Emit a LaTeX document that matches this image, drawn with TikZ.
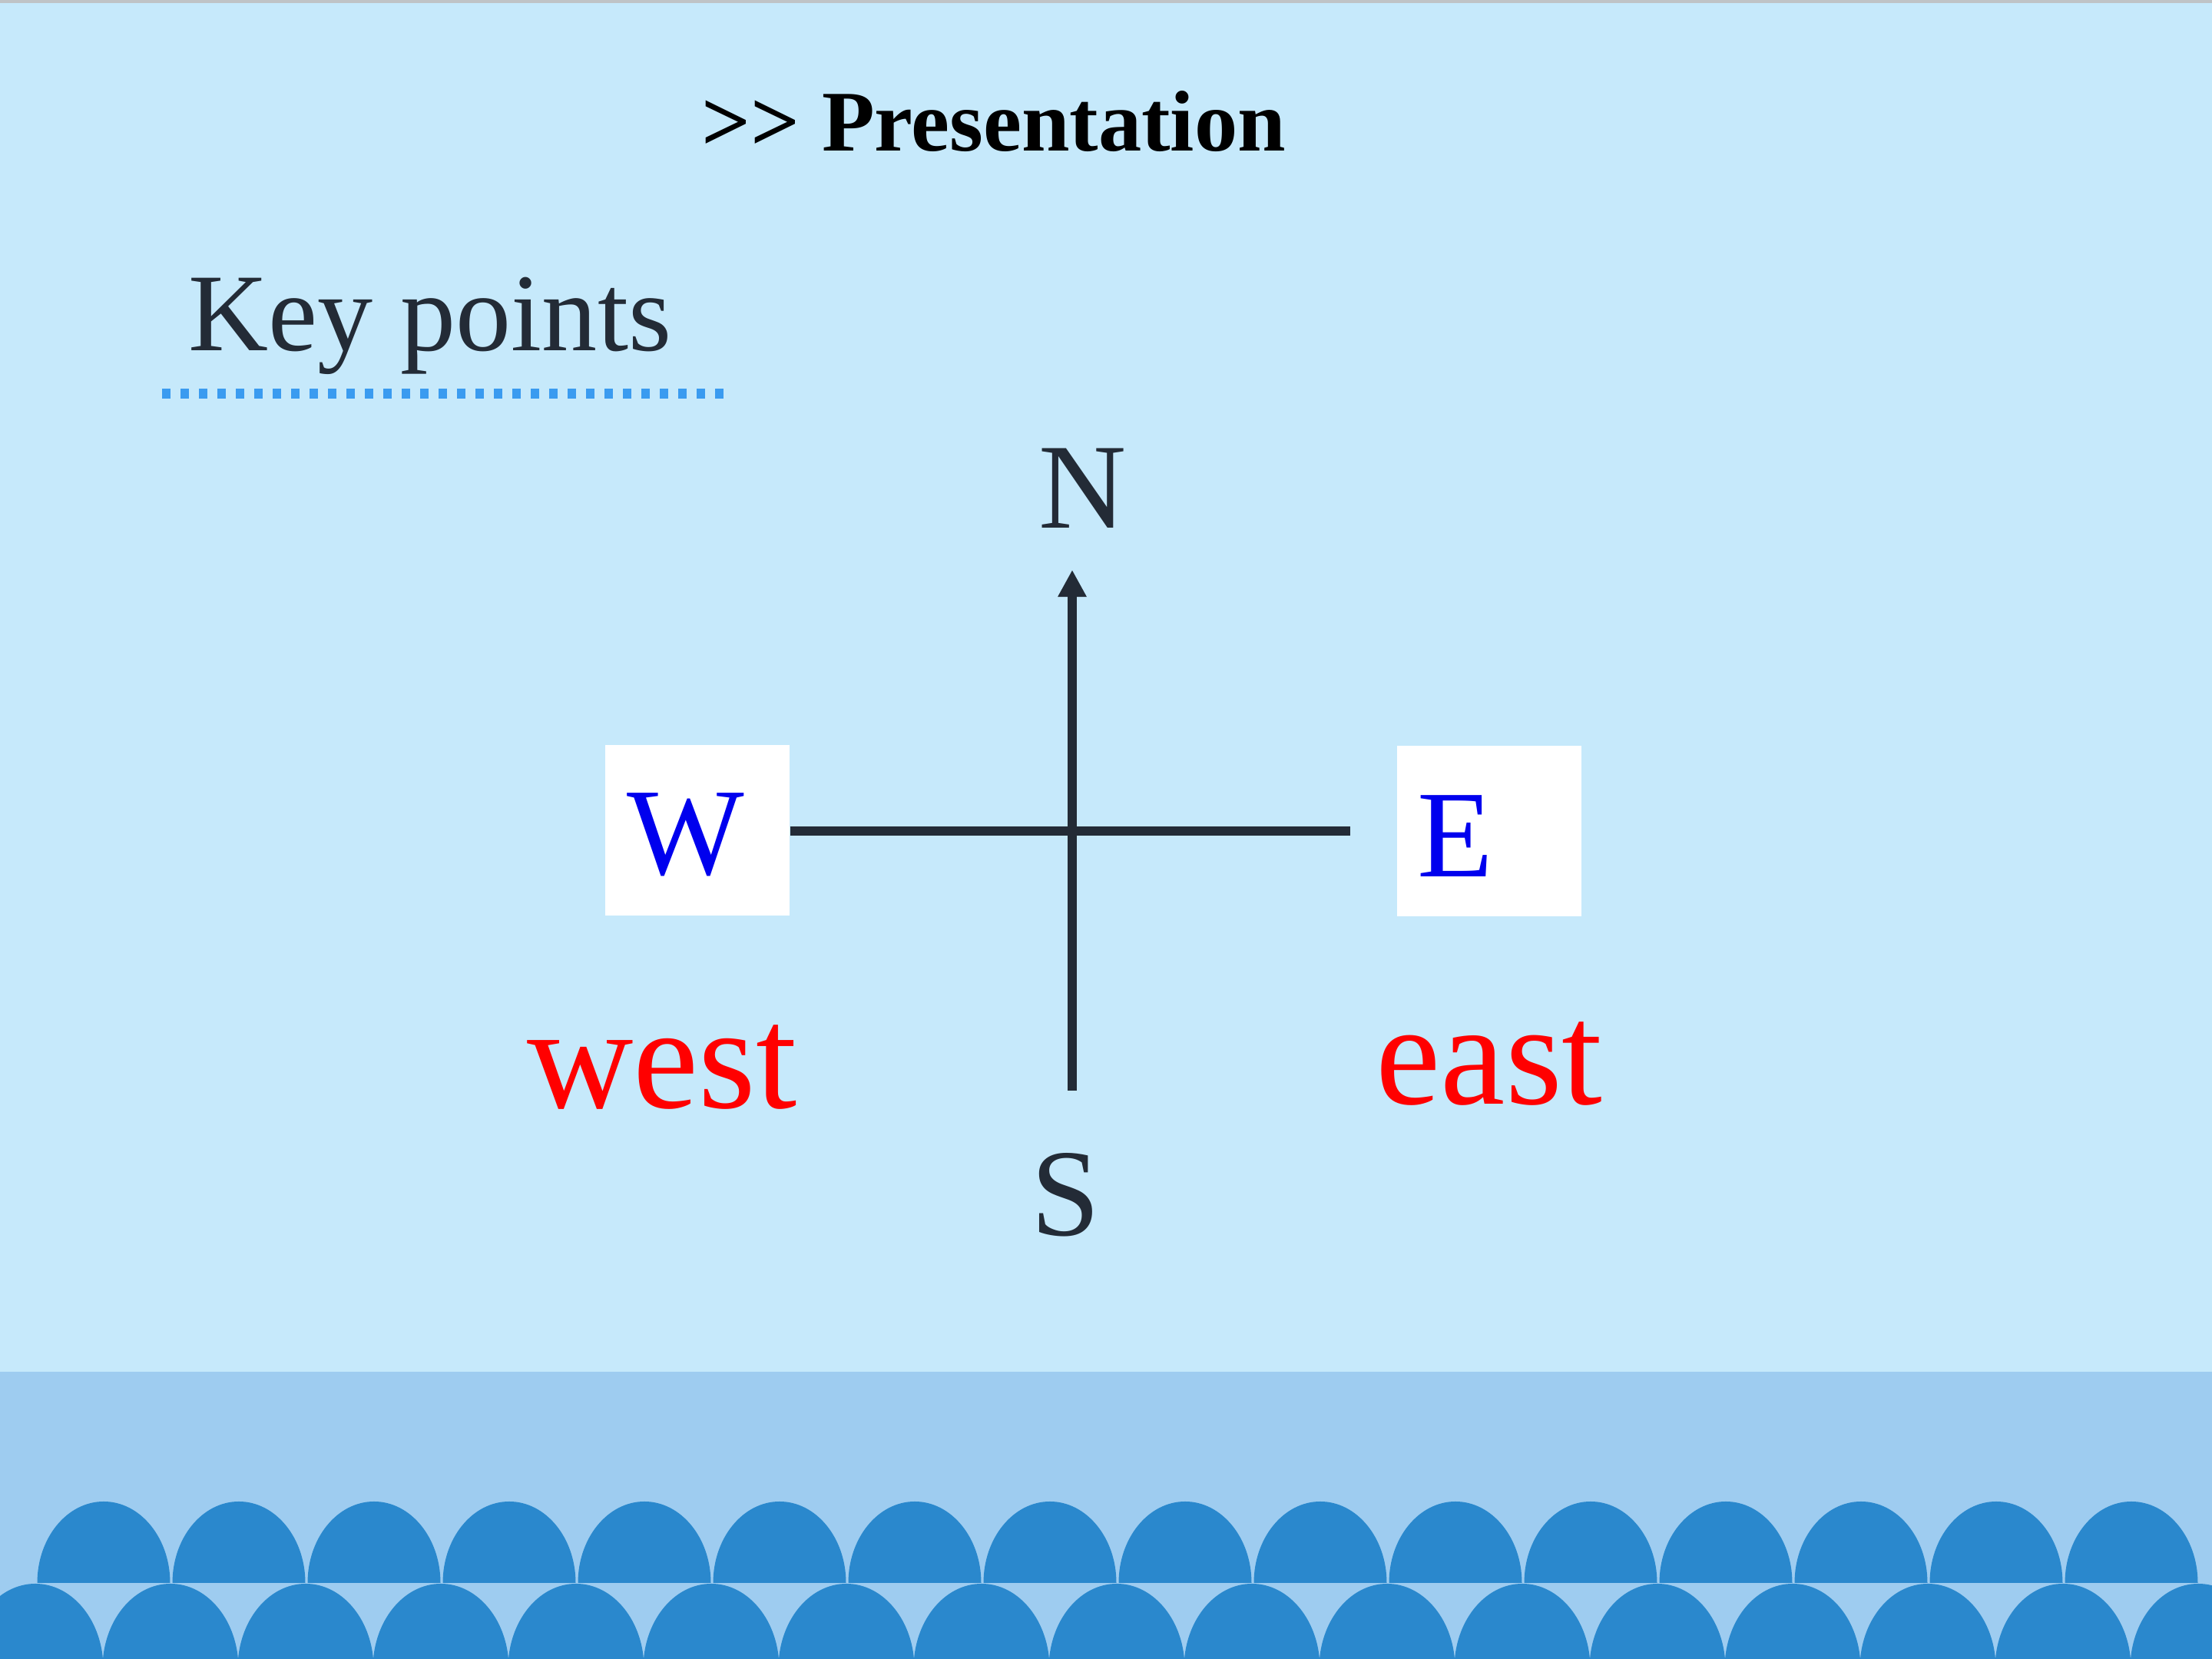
\documentclass[tikz,border=0pt]{standalone}
\usepackage{fontspec}
\setmainfont{Liberation Serif}
\usetikzlibrary{arrows.meta}
\definecolor{bgblue}{HTML}{C6E9FB}
\definecolor{topgray}{HTML}{BFC3C6}
\definecolor{bandblue}{HTML}{9ECCF0}
\definecolor{arcblue}{HTML}{2A88CD}
\definecolor{dotblue}{HTML}{3A9BF0}
\definecolor{ink}{HTML}{232B36}
\definecolor{letblue}{HTML}{0000EE}
\definecolor{wordred}{HTML}{FF0000}
\tikzset{
  lbl/.style={anchor=base, inner sep=0pt},
  letbox/.style={fill=white, inner sep=0pt, minimum width=2.40cm, minimum height=2.22cm}
}
\begin{document}
\begin{tikzpicture}[x=1cm, y=1cm]
    \useasboundingbox (0,0) rectangle (28.8,21.6);
    % 背景
    \fill[bgblue] (0,0) rectangle (28.8,21.6);
    \fill[topgray] (0,21.56) rectangle (28.8,21.6);
    \fill[bandblue] (0,0) rectangle (28.8,3.74);

    % 波浪
    \foreach \i in {0,...,16}
        \fill[arcblue] ({0.46+1.76*\i+0.885},-0.12) arc[start angle=0, end angle=180, x radius=0.885, y radius=1.10] -- cycle;
    \foreach \i in {0,...,15}
        \fill[arcblue] ({1.35+1.76*\i+0.865},0.99) arc[start angle=0, end angle=180, x radius=0.865, y radius=1.06] -- cycle;

    % 标题
    \node[font=\bfseries\fontsize{32pt}{38pt}\selectfont, anchor=base west, inner sep=0pt] (title) at (9.13,19.63) {>\kern0pt> Presentation};
    \node[font=\fontsize{41pt}{48pt}\selectfont, text=ink, anchor=base west, inner sep=0pt] (keypts) at (2.45,17.03) {Key points};
    \coordinate (dotL) at (2.11,16.47);
    \coordinate (dotR) at (9.42,16.47);
    \draw[dotblue, line width=3.7pt, dash pattern=on 3.13pt off 3.70pt] (dotL) -- (dotR);

    % 方向
    \node[letbox] (wbox) at (9.08,10.785) {};
    \node[letbox] (ebox) at (19.385,10.775) {};
    \node[lbl, font=\fontsize{46pt}{54pt}\selectfont, text=letblue] (wlet) at (8.93,10.21) {W};
    \node[lbl, font=\fontsize{46pt}{54pt}\selectfont, text=letblue] (elet) at (18.95,10.18) {E};
    \node[lbl, font=\fontsize{45pt}{54pt}\selectfont, text=ink] (nlet) at (14.10,14.72) {N};
    \node[lbl, font=\fontsize{46pt}{54pt}\selectfont, text=ink] (slet) at (13.87,5.51) {S};
    \node[lbl, font=\fontsize{54.5pt}{64pt}\selectfont, text=wordred] (west) at (8.62,7.17) {west};
    \node[lbl, font=\fontsize{54pt}{64pt}\selectfont, text=wordred] (east) at (19.39,7.22) {east};

    \coordinate (ntip) at (13.96,14.18);
    \coordinate (sfoot) at (13.96,7.40);
    \coordinate (eend) at (17.58,10.78);
    \draw[ink, line width=3.2pt] (wbox.east |- eend) -- (eend);
    \draw[ink, line width=3.4pt, -{Triangle[width=10pt, length=10pt]}] (sfoot) -- (ntip);
\end{tikzpicture}
\end{document}
